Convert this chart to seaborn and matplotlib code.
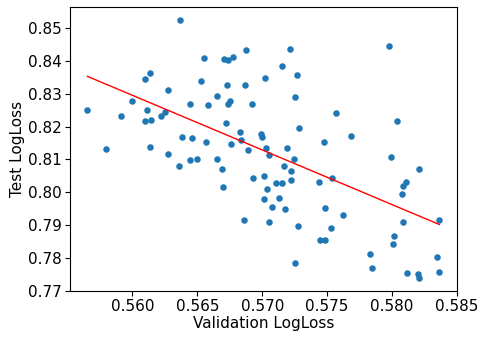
"""
Validation vs test LogLoss scatter with linear fit.
"""

import pandas as pd
import matplotlib

matplotlib.use("Agg")
import matplotlib.pyplot as plt
import seaborn as sns

# values
val_loss = [
    0.56364, 0.56133, 0.56095, 0.56525, 0.56277, 0.55654, 0.56000, 0.56441,
    0.56110, 0.55912, 0.56248, 0.56223, 0.56100, 0.56143, 0.56382, 0.56456,
    0.55795, 0.56138, 0.56274, 0.56358, 0.56443, 0.56500, 0.56554, 0.56708,
    0.56738, 0.56777, 0.56874, 0.57212, 0.57151, 0.57269, 0.57023, 0.56730,
    0.56869, 0.56648, 0.56754, 0.56735, 0.56582, 0.56918, 0.57254, 0.56720,
    0.56831, 0.57285, 0.56987, 0.56995, 0.56835, 0.56569, 0.56756, 0.56892,
    0.57033, 0.57190, 0.57477, 0.57049, 0.56651, 0.56687, 0.57246, 0.57164,
    0.57223, 0.56931, 0.57010, 0.57105, 0.57149, 0.57218, 0.57435, 0.56695,
    0.57035, 0.57010, 0.57131, 0.57079, 0.57174, 0.57485, 0.56862, 0.57051,
    0.57274, 0.57448, 0.57485, 0.57256, 0.57979, 0.57566, 0.58038, 0.57687,
    0.57989, 0.58205, 0.57535, 0.58108, 0.58087, 0.58074, 0.57620, 0.57528,
    0.58082, 0.58364, 0.58013, 0.58010, 0.57833, 0.57846, 0.58343, 0.58118,
    0.58200, 0.58210, 0.58362,
]
test_loss = [
    0.8524, 0.8362, 0.8345, 0.8337, 0.8310, 0.8250, 0.8279, 0.8269,
    0.8251, 0.8232, 0.8243, 0.8231, 0.8218, 0.8221, 0.8169, 0.8166,
    0.8133, 0.8138, 0.8118, 0.8079, 0.8099, 0.8102, 0.8407, 0.8404,
    0.8402, 0.8413, 0.8433, 0.8437, 0.8385, 0.8356, 0.8348, 0.8327,
    0.8327, 0.8293, 0.8279, 0.8269, 0.8266, 0.8270, 0.8290, 0.8210,
    0.8183, 0.8197, 0.8176, 0.8167, 0.8160, 0.8153, 0.8147, 0.8129,
    0.8134, 0.8136, 0.8153, 0.8113, 0.8102, 0.8072, 0.8102, 0.8081,
    0.8066, 0.8044, 0.8050, 0.8029, 0.8029, 0.8038, 0.8031, 0.8015,
    0.8009, 0.7980, 0.7983, 0.7955, 0.7949, 0.7952, 0.7916, 0.7909,
    0.7897, 0.7855, 0.7855, 0.7785, 0.8444, 0.8240, 0.8217, 0.8171,
    0.8106, 0.8072, 0.8045, 0.8031, 0.8020, 0.7996, 0.7930, 0.7893,
    0.7909, 0.7915, 0.7868, 0.7842, 0.7812, 0.7771, 0.7804, 0.7756,
    0.7753, 0.7740, 0.7757,
]

df = pd.DataFrame({"Validation LogLoss": val_loss, "Test LogLoss": test_loss})

fig, ax = plt.subplots(figsize=(4.82, 3.38), dpi=100)
fig.subplots_adjust(left=0.145, right=0.948, top=0.979, bottom=0.139)

sns.regplot(
    data=df,
    x="Validation LogLoss",
    y="Test LogLoss",
    ci=None,
    ax=ax,
    scatter_kws={"s": 22, "color": "#1f77b4", "linewidths": 0, "alpha": 1},
    line_kws={"color": "red", "lw": 1},
)

ax.set_xticks([0.560, 0.565, 0.570, 0.575, 0.580, 0.585])
ax.set_yticks([0.77, 0.78, 0.79, 0.80, 0.81, 0.82, 0.83, 0.84, 0.85])
ax.tick_params(labelsize=11, pad=2.5)
ax.set_xlabel("Validation LogLoss", fontsize=11, labelpad=1.5)
ax.set_ylabel("Test LogLoss", fontsize=11, labelpad=2)

plt.savefig("out.png", dpi=100)
